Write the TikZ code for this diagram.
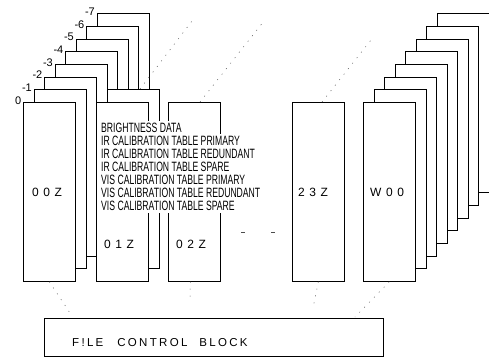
\documentclass[tikz,border=0pt]{standalone}
\usepackage{fontspec}
\setmainfont{Liberation Sans}
\newfontfamily\narrowfont[FakeStretch=0.64]{Liberation Sans}
\newfontfamily\labelfont[LetterSpace=10]{Liberation Sans}
\newfontfamily\spacedfont[LetterSpace=20]{Liberation Sans}
\begin{document}
\begin{tikzpicture}[x=1pt,y=-1pt,
  fbox/.style={draw, fill=white, line width=0.7pt, minimum width=52pt, minimum height=179pt, inner sep=0pt, anchor=north west},
  tline/.style={anchor=west, fill=white, inner xsep=1pt, inner ysep=2pt, text height=9.7pt, text depth=0pt, font=\narrowfont\fontsize{13.5}{13.5}\selectfont},
  blabel/.style={font=\labelfont\fontsize{12}{12}\selectfont, anchor=west, inner sep=0pt},
  klabel/.style={font=\fontsize{11}{11}\selectfont, anchor=east, inner sep=0pt},
  guide/.style={line width=0.5pt, black!70, dash pattern=on 1pt off 6pt},
  tick/.style={line width=0.5pt, black!70}]
\useasboundingbox (0,0) rectangle (489,357);

% 00Z stack
\foreach \k in {7,...,0} {
  \node[fbox] (a\k) at ({23+10.5*\k},{102-12.7*\k}) {};
  \node[klabel] (la\k) at ({21.5+10.5*\k},{100.5-12.7*\k}) {\ifnum\k=0 0\else -\k\fi};
}
% 01Z stack
\node[fbox] (b1) at (107,89) {};
\node[fbox] (b0) at (96,102) {};
% 02Z, 23Z
\node[fbox] (c0) at (168,102) {};
\node[fbox] (d0) at (292,102) {};
% W00 stack
\foreach \k in {7,...,0} {
  \node[fbox] (w\k) at ({363+10.5*\k},{102-12.7*\k}) {};
}

% box labels
\node[blabel] (l00) at (32,192) {0 0 Z};
\node[blabel] (l01) at (104,244) {0 1 Z};
\node[blabel] (l02) at (176,244) {0 2 Z};
\node[blabel] (l23) at (298,192) {2 3 Z};
\node[blabel] (lw0) at (370,192) {W 0 0};

% text block
\foreach \t [count=\i from 0] in {BRIGHTNESS DATA,IR CALIBRATION TABLE PRIMARY,IR CALIBRATION TABLE REDUNDANT,IR CALIBRATION TABLE SPARE,VIS CALIBRATION TABLE PRIMARY,VIS CALIBRATION TABLE REDUNDANT,VIS CALIBRATION TABLE SPARE} {
  \node[tline] (t\i) at (100,{128+13*\i}) {\t};
}

% perspective guides
\coordinate (g1a) at (200,102);
\coordinate (g1b) at (264,21);
\coordinate (g2a) at (322,102);
\coordinate (g2b) at (371,40);
\coordinate (g3a) at (140,89);
\coordinate (g3b) at (192,21);
\draw[guide] (g1a) -- (g1b);
\draw[guide] (g2a) -- (g2b);
\draw[guide] (g3a) -- (g3b);

% ellipsis between 02Z and 23Z
\coordinate (e1a) at (241,232); \coordinate (e1b) at (245,232);
\coordinate (e2a) at (271,232); \coordinate (e2b) at (275,232);
\draw[tick] (e1a) -- (e1b);
\draw[tick] (e2a) -- (e2b);

% file control block
\node[draw, line width=0.7pt, anchor=north west, minimum width=339pt, minimum height=38pt, inner sep=0pt] (fcb) at (44,318) {};
\node[font=\spacedfont\fontsize{11.5}{11.5}\selectfont, anchor=west, inner sep=0pt] (fcbt) at (72,343) {F!LE\hspace{14pt}CONTROL\hspace{12pt}BLOCK};

% guides to the file control block
\coordinate (f1) at (72,316);
\coordinate (f2) at (190,298);
\coordinate (f3) at (313,308);
\coordinate (f4) at (355,317);
\draw[guide] (a0.south) -- (f1);
\draw[guide] ([xshift=-4pt]c0.south) -- (f2);
\draw[guide] (d0.south) -- (f3);
\draw[guide] (w0.south) -- (f4);
\end{tikzpicture}
\end{document}
